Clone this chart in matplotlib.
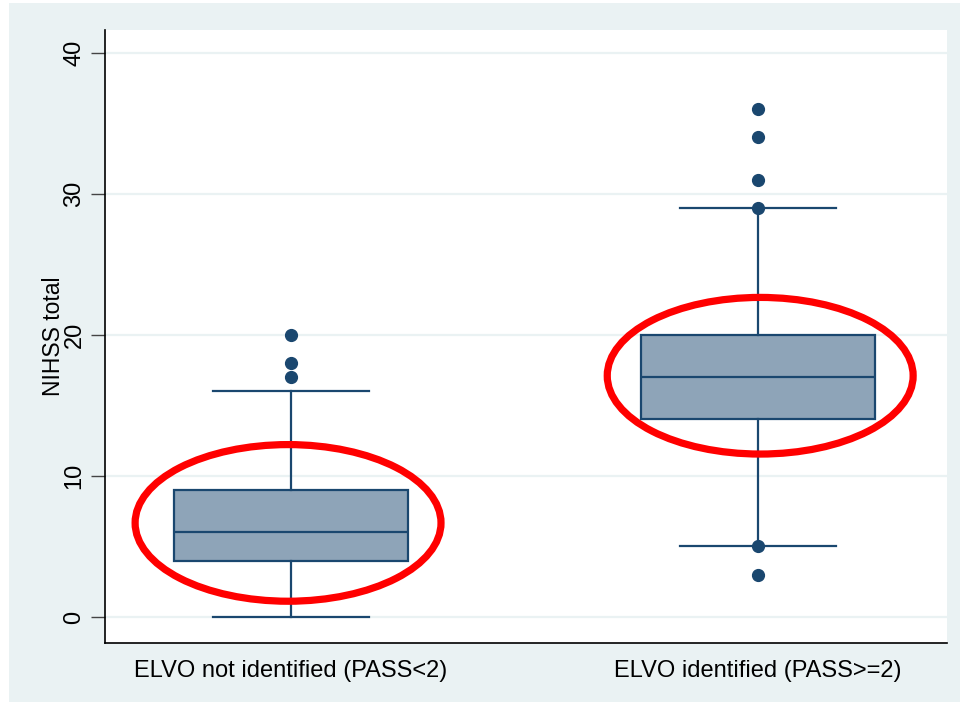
import matplotlib.pyplot as plt
from matplotlib.patches import Ellipse, Rectangle

plt.rcParams['font.family'] = ['Liberation Sans', 'DejaVu Sans']

# box plot summary
groups = ['ELVO not identified (PASS<2)', 'ELVO identified (PASS>=2)']
q1 = [4, 14]
median = [6, 17]
q3 = [9, 20]
whislo = [0, 5]
whishi = [16, 29]
outliers = [[17, 18, 20], [3, 5, 29, 31, 34, 36]]
yticks = [0, 10, 20, 30, 40]

navy = '#1a476f'
fill = '#8ea4b8'
panel = '#eaf2f3'

fig = plt.figure(figsize=(9.6, 7.02), dpi=100)
fig.patch.set_facecolor('white')
fig.patches.append(Rectangle((9 / 960, 0), 951 / 960, 699 / 702,
                             transform=fig.transFigure, facecolor=panel,
                             edgecolor='none', zorder=-10))
ax = fig.add_axes([105 / 960, 59 / 702, 842 / 960, 613 / 702])
ax.set_facecolor('white')

stats = []
for i in range(len(groups)):
    stats.append(dict(q1=q1[i], med=median[i], q3=q3[i], whislo=whislo[i],
                      whishi=whishi[i], fliers=outliers[i], label=groups[i]))

ax.bxp(stats, positions=[1, 2], widths=0.5, patch_artist=True,
       boxprops=dict(facecolor=fill, edgecolor=navy, linewidth=1.6),
       medianprops=dict(color=navy, linewidth=1.6),
       whiskerprops=dict(color=navy, linewidth=1.6),
       capprops=dict(color=navy, linewidth=1.6), capwidths=0.335,
       flierprops=dict(marker='o', markerfacecolor=navy, markeredgecolor=navy,
                       markersize=8.5))

# red highlight rings drawn by hand around the boxes
rings = [(0.994, 6.67), (2.005, 17.1)]
for cx, cy in rings:
    ax.add_patch(Ellipse((cx, cy), 0.655, 11.1, fill=False,
                         edgecolor='#ff0000', linewidth=5.2, zorder=5))

ax.set_xlim(0.602, 2.405)
ax.set_ylim(-1.84, 41.6)
ax.set_yticks(yticks)
ax.set_yticklabels([str(t) for t in yticks], rotation=90, va='center',
                   fontsize=17)
ax.tick_params(axis='y', length=10, width=1, color='#444444', pad=4)
ax.tick_params(axis='x', length=0, pad=12, labelsize=17)
ax.set_ylabel('NIHSS total', fontsize=16.5, labelpad=-1)
ax.yaxis.grid(True, color=panel, linewidth=1.6)
ax.set_axisbelow(True)
for side in ['top', 'right']:
    ax.spines[side].set_visible(False)
for side in ['left', 'bottom']:
    ax.spines[side].set_color('black')
    ax.spines[side].set_linewidth(1.2)

fig.savefig('out.png', dpi=100, facecolor=fig.get_facecolor())
